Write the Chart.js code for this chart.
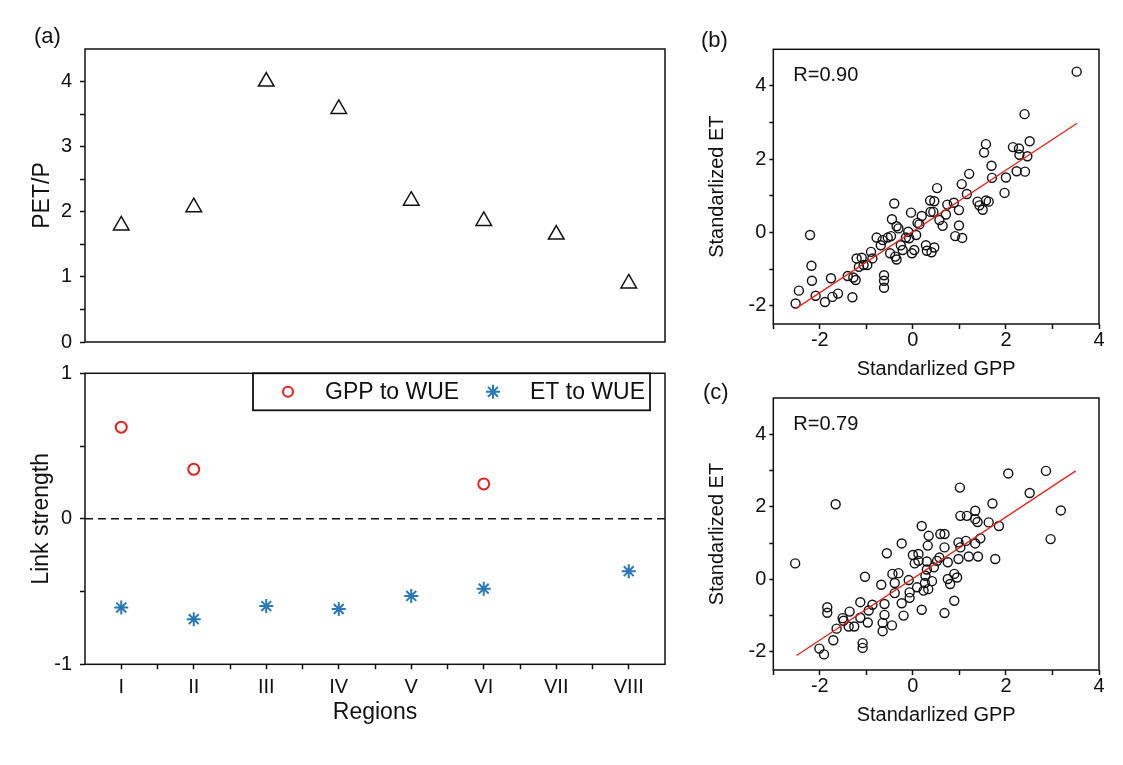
<!DOCTYPE html>
<html lang="en">
<head>
<meta charset="UTF-8">
<title>PET/P, link strength and standardized GPP vs ET</title>
<script src="https://cdn.jsdelivr.net/npm/chart.js"></script>
<style>
  body { margin: 0; background: #fff; width: 1123px; height: 765px; position: relative; overflow: hidden;
         font-family: "Liberation Sans", Arial, sans-serif; }
  .pane { position: absolute; }
  .tag { position: absolute; font-size: 22px; line-height: 22px; color: #111; }
</style>
</head>
<body>

<div class="pane" style="left:0; top:350px"><canvas id="linkChart" width="680" height="400"></canvas></div>
<div class="pane" style="left:0; top:0"><canvas id="petChart" width="680" height="360"></canvas></div>
<div class="pane" style="left:690px; top:0"><canvas id="scatterB" width="433" height="385"></canvas></div>
<div class="pane" style="left:690px; top:385px"><canvas id="scatterC" width="433" height="380"></canvas></div>

<div class="tag" style="left:34px; top:25px">(a)</div>
<div class="tag" style="left:701px; top:29px">(b)</div>
<div class="tag" style="left:703px; top:381px">(c)</div>

<script>
// ---- data ----
const regions = ['I', 'II', 'III', 'IV', 'V', 'VI', 'VII', 'VIII'];
const regionPos = [1, 2, 3, 4, 5, 6, 7, 8];
const petP = [1.79, 2.07, 4.00, 3.58, 2.17, 1.86, 1.65, 0.90];
const gppToWue = [0.63, 0.34, null, null, null, 0.24, null, null];
const etToWue = [-0.61, -0.69, -0.60, -0.62, -0.53, -0.48, null, -0.36];

const petTicks = [0, 0.5, 1, 1.5, 2, 2.5, 3, 3.5, 4];
const linkTicks = [-1, -0.5, 0, 0.5, 1];
const regionTicks = [1, 1.5, 2, 2.5, 3, 3.5, 4, 4.5, 5, 5.5, 6, 6.5, 7, 7.5, 8];
const gppTicks = [-3, -2, -1, 0, 1, 2, 3, 4];
const etTicks = [-2, -1, 0, 1, 2, 3, 4];

// panel (b)
const gppB = [3.52, 2.40, 2.51, 2.15, 2.28, 2.29, 2.46, 2.23, 2.41, 1.57, 1.53, 1.69, 1.70, 2.00, 1.97,
  1.21, 1.05, 1.16, 1.39, 1.43, 1.57, 1.63, 1.50, 0.52, 0.88, 0.74, 0.99, 0.71, 0.99, 0.91, 1.06,
  0.37, 0.46, 0.38, 0.44, 0.57, 0.64, 0.19, 0.14, -0.04, -0.40, -0.45, -0.35, -0.10, 0.07, -0.08,
  0.28, 0.40, 0.30, 0.46, 0.03, -0.02, -0.15, -0.22, -0.26, -0.47, -0.54, -0.31, -0.49, -0.38, -0.35,
  -0.69, -0.78, -0.65, -0.90, -0.87, -1.10, -1.21, -1.16, -1.06, -0.98, -0.62, -0.62, -0.62, -1.40,
  -1.28, -1.23, -1.30, -1.76, -1.73, -1.61, -1.89, -2.09, -2.17, -2.18, -2.21, -2.45, -2.52, 0.10];
const etB = [4.39, 3.23, 2.49, 2.33, 2.29, 2.12, 2.08, 1.67, 1.66, 2.41, 2.18, 1.82, 1.49, 1.50, 1.08,
  1.60, 1.32, 1.05, 0.84, 0.74, 0.87, 0.84, 0.62, 1.21, 0.81, 0.76, 0.61, 0.49, 0.19, -0.10, -0.15,
  0.87, 0.85, 0.56, 0.56, 0.34, 0.18, 0.45, 0.22, 0.54, 0.79, 0.36, 0.17, 0.02, -0.07, -0.16,
  -0.35, -0.54, -0.50, -0.41, -0.48, -0.57, -0.14, -0.48, -0.35, -0.10, -0.14, 0.11, -0.57, -0.66, -0.74,
  -0.35, -0.14, -0.21, -0.53, -0.71, -0.69, -0.71, -0.94, -0.89, -0.89, -1.17, -1.32, -1.51, -1.19,
  -1.23, -1.30, -1.77, -1.25, -1.76, -1.67, -1.90, -1.73, -1.32, -0.91, -0.07, -1.59, -1.94, 0.26];
const fitB_gpp = [-2.52, 3.53];
const fitB_et = [-2.08, 2.98];
const rTextB = 'R=0.90';

// panel (c)
const gppC = [-2.53, -1.66, -2.01, -1.91, -1.84, -1.84, -1.71, -1.64, -1.51, -1.49, -1.36, -1.38, -1.26,
  -1.13, -1.13, -0.95, -0.97, -0.87, -1.08, -1.08, -1.03, -0.68, -0.61, -0.61, -0.65, -0.65, -0.56,
  -0.45, -0.44, -0.39, -0.39, -0.31, -0.24, -0.20, -0.24, -0.09, -0.07, -0.07, 0.00, 0.04, 0.09, 0.12,
  0.19, 0.19, 0.23, 0.27, 0.30, 0.32, 0.34, 0.33, 0.41, 0.45, 0.52, 0.57, 0.59, 0.68, 0.68, 0.68,
  0.75, 0.75, 0.80, 0.89, 0.95, 0.89, 0.98, 0.98, 1.02, 1.01, 1.02, 1.16, 1.14, 1.20, 1.34, 1.34,
  1.39, 1.34, 1.45, 1.40, 1.63, 1.71, 1.77, 1.85, 2.05, 2.51, 2.86, 3.18, 2.96, 0.26, 0.30, 0.12];
const etC = [0.44, 2.07, -1.91, -2.07, -0.77, -0.92, -1.68, -1.36, -1.07, -1.14, -0.89, -1.30, -1.30,
  -0.63, -1.06, -0.86, -1.19, -0.70, -1.76, -1.89, 0.07, -0.15, -0.68, -0.98, -1.20, -1.43, 0.72,
  -1.27, 0.15, -0.10, -0.38, 0.17, -0.66, -1.00, 0.99, -0.02, -0.36, -0.51, 0.67, 0.44, -0.22, 0.70,
  1.47, -0.84, -0.31, 0.10, 0.49, 0.93, 1.20, -0.27, -0.05, 0.33, 0.51, 0.60, 1.25, 1.25, 0.88, -0.93,
  0.47, 0.01, -0.13, 0.15, 0.05, -0.59, 0.56, 1.02, 0.88, 2.53, 1.75, 1.75, 1.06, 0.63, 1.89, 1.66,
  1.58, 0.99, 1.13, 0.63, 1.57, 2.09, 0.56, 1.47, 2.92, 2.38, 2.99, 1.90, 1.11, -0.10, 0.27, 0.51];
const fitC_gpp = [-2.50, 3.50];
const fitC_et = [-2.10, 2.99];
const rTextC = 'R=0.79';

// ---- shared styling ----
const FONT = '"Liberation Sans", Arial, sans-serif';
const INK = '#111';
const RED = '#e8231c';
const BLUE = '#2a78b8';

// box round the plot area
const frame = {
    id: 'frame',
    afterDraw(chart) {
        const { ctx, chartArea: a } = chart;
        ctx.save();
        ctx.strokeStyle = INK;
        ctx.lineWidth = 1.5;
        ctx.strokeRect(a.left, a.top, a.right - a.left, a.bottom - a.top);
        ctx.restore();
    }
};

// dashed line at zero
const zeroLine = {
    id: 'zeroLine',
    beforeDatasetsDraw(chart) {
        const { ctx, chartArea: a } = chart;
        const y = chart.scales.y.getPixelForValue(0);
        ctx.save();
        ctx.strokeStyle = INK;
        ctx.lineWidth = 1.5;
        ctx.setLineDash([8, 5]);
        ctx.beginPath();
        ctx.moveTo(a.left, y);
        ctx.lineTo(a.right, y);
        ctx.stroke();
        ctx.restore();
    }
};

function drawStar(ctx, x, y, r) {
    for (let k = 0; k < 4; k++) {
        const ang = k * Math.PI / 4;
        ctx.moveTo(x - r * Math.cos(ang), y - r * Math.sin(ang));
        ctx.lineTo(x + r * Math.cos(ang), y + r * Math.sin(ang));
    }
}

// legend with a box, top right of panel (a) bottom
const boxLegend = {
    id: 'boxLegend',
    afterDraw(chart) {
        const { ctx, chartArea: a } = chart;
        const x1 = a.left + 168, x2 = a.right - 15, y1 = a.top, y2 = a.top + 37;
        const cy = (y1 + y2) / 2;
        ctx.save();
        ctx.fillStyle = '#fff';
        ctx.fillRect(x1, y1, x2 - x1, y2 - y1);
        ctx.strokeStyle = INK;
        ctx.lineWidth = 1.8;
        ctx.strokeRect(x1, y1, x2 - x1, y2 - y1);

        ctx.strokeStyle = RED;
        ctx.lineWidth = 2;
        ctx.beginPath();
        ctx.arc(x1 + 35, cy, 5, 0, Math.PI * 2);
        ctx.stroke();

        ctx.strokeStyle = BLUE;
        ctx.lineWidth = 2;
        ctx.beginPath();
        drawStar(ctx, x1 + 240, cy, 7);
        ctx.stroke();

        ctx.fillStyle = INK;
        ctx.font = '23px ' + FONT;
        ctx.textBaseline = 'middle';
        ctx.fillText(chart.data.datasets[0].label, x1 + 72, cy + 1);
        ctx.fillText(chart.data.datasets[1].label, x1 + 277, cy + 1);
        ctx.restore();
    }
};

// correlation text inside the scatter panels
const rLabel = {
    id: 'rLabel',
    afterDraw(chart, args, opts) {
        const { ctx, chartArea: a } = chart;
        ctx.save();
        ctx.fillStyle = INK;
        ctx.font = '20px ' + FONT;
        ctx.textBaseline = 'middle';
        ctx.fillText(opts.text, a.left + 20, a.top + 26);
        ctx.restore();
    }
};

function tickSet(values) {
    return function (scale) {
        scale.ticks = values.map(v => ({ value: v }));
    };
}

const tickGrid = { drawOnChartArea: false, drawTicks: true, tickLength: 5, tickWidth: 1.5, tickColor: INK };

// ---- panel (a) top: PET/P ----
new Chart(document.getElementById('petChart'), {
    type: 'scatter',
    data: {
        datasets: [{
            label: 'PET/P',
            data: regionPos.map((x, i) => ({ x: x, y: petP[i] })),
            pointStyle: 'triangle',
            pointRadius: 9,
            borderColor: INK,
            borderWidth: 1.5,
            backgroundColor: 'transparent'
        }]
    },
    options: {
        responsive: false,
        animation: false,
        layout: { padding: { left: 0, top: 49, right: 15, bottom: 0 } },
        plugins: { legend: { display: false }, tooltip: { enabled: false } },
        scales: {
            x: { type: 'linear', min: 0.5, max: 8.5, display: false },
            y: {
                type: 'linear', min: 0, max: 4.5,
                afterBuildTicks: tickSet(petTicks),
                afterFit: s => { s.width = 85; },
                border: { display: false },
                grid: tickGrid,
                ticks: {
                    color: INK, padding: 8,
                    font: { family: FONT, size: 20, lineHeight: 1 },
                    callback: v => Number.isInteger(v) ? v : ''
                },
                title: {
                    display: true, text: 'PET/P', color: INK,
                    font: { family: FONT, size: 23, lineHeight: 1 },
                    padding: { top: 31, bottom: 0 }
                }
            }
        }
    },
    plugins: [frame]
});

// ---- panel (a) bottom: link strength ----
new Chart(document.getElementById('linkChart'), {
    type: 'scatter',
    data: {
        datasets: [
            {
                label: 'GPP to WUE',
                data: regionPos.map((x, i) => ({ x: x, y: gppToWue[i] })),
                pointStyle: 'circle',
                pointRadius: 5.5,
                borderColor: RED,
                borderWidth: 2,
                backgroundColor: 'transparent'
            },
            {
                label: 'ET to WUE',
                data: regionPos.map((x, i) => ({ x: x, y: etToWue[i] })),
                pointStyle: 'star',
                pointRadius: 7,
                borderColor: BLUE,
                borderWidth: 2,
                backgroundColor: BLUE
            }
        ]
    },
    options: {
        responsive: false,
        animation: false,
        layout: { padding: { left: 0, top: 23.3, right: 15, bottom: 0 } },
        plugins: { legend: { display: false }, tooltip: { enabled: false } },
        scales: {
            x: {
                type: 'linear', min: 0.5, max: 8.5,
                afterBuildTicks: tickSet(regionTicks),
                afterFit: s => { s.height = 85.7; },
                border: { display: false },
                grid: tickGrid,
                ticks: {
                    color: INK, padding: 8, autoSkip: false, maxRotation: 0,
                    font: { family: FONT, size: 20, lineHeight: 1 },
                    callback: v => Number.isInteger(v) ? regions[v - 1] : ''
                },
                title: {
                    display: true, text: 'Regions', color: INK,
                    font: { family: FONT, size: 23, lineHeight: 1 },
                    padding: { top: 0, bottom: 26 }
                }
            },
            y: {
                type: 'linear', min: -1, max: 1,
                afterBuildTicks: tickSet(linkTicks),
                afterFit: s => { s.width = 85; },
                border: { display: false },
                grid: tickGrid,
                ticks: {
                    color: INK, padding: 8,
                    font: { family: FONT, size: 20, lineHeight: 1 },
                    callback: v => Number.isInteger(v) ? v : ''
                },
                title: {
                    display: true, text: 'Link strength', color: INK,
                    font: { family: FONT, size: 23, lineHeight: 1 },
                    padding: { top: 30, bottom: 0 }
                }
            }
        }
    },
    plugins: [zeroLine, frame, boxLegend]
});

// ---- panels (b) and (c): standardized GPP vs ET ----
function scatterPanel(id, gpp, et, fitX, fitY, rText, padTop, xHeight, titleBottom) {
    return new Chart(document.getElementById(id), {
        type: 'scatter',
        data: {
            datasets: [
                {
                    label: 'fit',
                    data: fitX.map((x, i) => ({ x: x, y: fitY[i] })),
                    showLine: true,
                    pointRadius: 0,
                    borderColor: RED,
                    borderWidth: 1.3
                },
                {
                    label: 'years',
                    data: gpp.map((x, i) => ({ x: x, y: et[i] })),
                    pointStyle: 'circle',
                    pointRadius: 4.5,
                    borderColor: INK,
                    borderWidth: 1.4,
                    backgroundColor: 'transparent'
                }
            ]
        },
        options: {
            responsive: false,
            animation: false,
            layout: { padding: { left: 0, top: padTop, right: 24, bottom: 0 } },
            plugins: { legend: { display: false }, tooltip: { enabled: false }, rLabel: { text: rText } },
            scales: {
                x: {
                    type: 'linear', min: -3, max: 4,
                    afterBuildTicks: tickSet(gppTicks),
                    afterFit: s => { s.height = xHeight; },
                    border: { display: false },
                    grid: tickGrid,
                    ticks: {
                        color: INK, padding: 1, autoSkip: false, maxRotation: 0,
                        font: { family: FONT, size: 20, lineHeight: 1 },
                        callback: v => v % 2 === 0 ? String(v) : ''
                    },
                    title: {
                        display: true, text: 'Standarlized GPP', color: INK,
                        font: { family: FONT, size: 20, lineHeight: 1 },
                        padding: { top: 0, bottom: titleBottom }
                    }
                },
                y: {
                    type: 'linear', min: -2.5, max: 5,
                    afterBuildTicks: tickSet(etTicks),
                    afterFit: s => { s.width = 83.3; },
                    border: { display: false },
                    grid: { drawOnChartArea: false, drawTicks: true, tickLength: 4, tickWidth: 1.5, tickColor: INK },
                    ticks: {
                        color: INK, padding: 3,
                        font: { family: FONT, size: 20, lineHeight: 1 },
                        callback: v => v % 2 === 0 ? String(v) : ''
                    },
                    title: {
                        display: true, text: 'Standarlized ET', color: INK,
                        font: { family: FONT, size: 20, lineHeight: 1 },
                        padding: { top: 17, bottom: 0 }
                    }
                }
            }
        },
        plugins: [frame, rLabel]
    });
}

scatterPanel('scatterB', gppB, etB, fitB_gpp, fitB_et, rTextB, 49.3, 61, 6);
scatterPanel('scatterC', gppC, etC, fitC_gpp, fitC_et, rTextC, 10, 95, 40);
</script>
</body>
</html>
